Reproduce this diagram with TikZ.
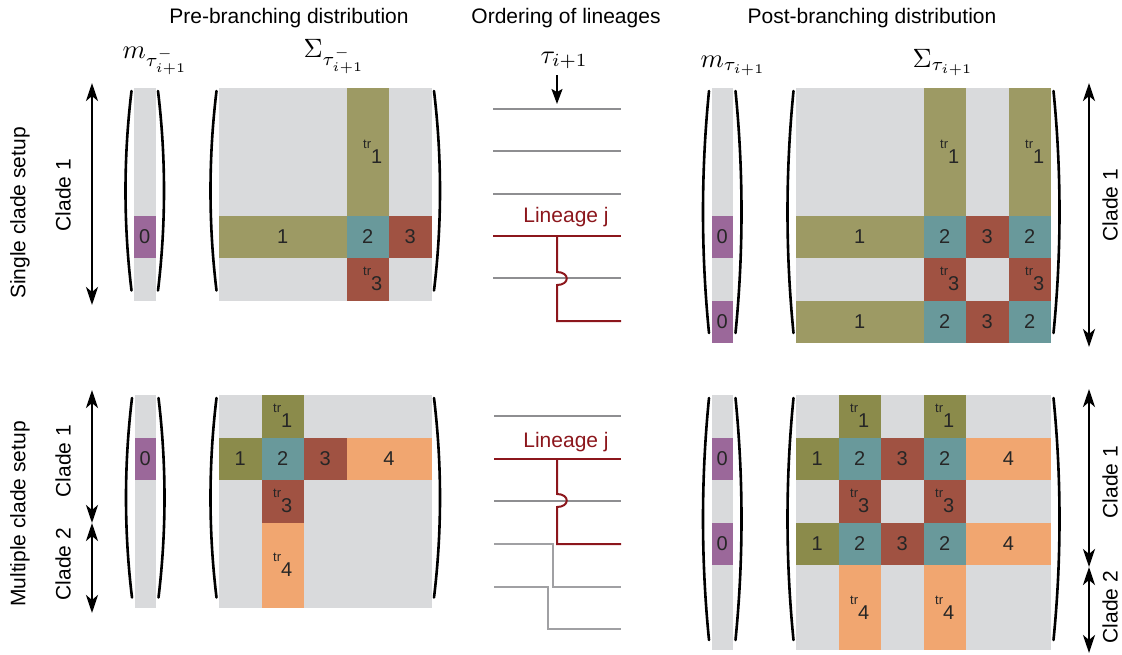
\documentclass[tikz,border=0pt]{standalone}
\usepackage{fix-cm}
\usepackage{amsmath}
\usepackage{fontspec}
\setmainfont{Liberation Sans}
\usetikzlibrary{arrows.meta}
\usetikzlibrary{calc}

\definecolor{cellgray}{RGB}{217,218,220}
\definecolor{olivea}{RGB}{157,154,100}
\definecolor{oliveb}{RGB}{139,139,75}
\definecolor{tealc}{RGB}{105,153,155}
\definecolor{redc}{RGB}{160,82,66}
\definecolor{purplec}{RGB}{155,104,154}
\definecolor{orangec}{RGB}{241,166,112}
\definecolor{linered}{RGB}{140,22,28}
\definecolor{linegray}{RGB}{142,142,145}
\definecolor{lightline}{RGB}{160,160,163}

% transposed entry
\newcommand\trp[1]{\raisebox{15pt}{\fontsize{13}{13}\selectfont tr}#1}
\newcommand\trpr[1]{\kern10pt\trp{#1}}
% block of cells: origin, c0, r0, c1, r1, colour, name, label
\newcommand\cellblk[8]{%
  \fill[#6] ($(#1)+({(#2)*\cellw},{(#3)*\cellw})$) rectangle ($(#1)+({(#4)*\cellw},{(#5)*\cellw})$);
  \node[num] (#7) at ($(#1)+({((#2)+(#4))*\cellw/2},{((#3)+(#5))*\cellw/2})$) {#8};}
% purple entry of a mean vector: origin, row, name
\newcommand\mcell[3]{%
  \fill[purplec] ($(#1)+(0,{(#2)*\cellw})$) rectangle +(\mw,\cellw);
  \node[num] (#3) at ($(#1)+(\mw/2,{((#2)+0.5)*\cellw})$) {0};}
% pair of brackets: left x, right x, top y, bottom y
\newcommand\vparen[4]{%
  \draw[paren] (#1-2.5,#3+3) .. controls +(-8,{(#4-#3-13)/3}) and +(-8,{-(#4-#3-13)/3}) .. (#1-2.5,#4-10);
  \draw[paren] (#2+2.5,#3+3) .. controls +(8,{(#4-#3-13)/3}) and +(8,{-(#4-#3-13)/3}) .. (#2+2.5,#4-10);}

\begin{document}
\begin{tikzpicture}[x=1pt,y=-1pt,>=Stealth]
\useasboundingbox (0,0) rectangle (1122,654);
\def\cellw{42.5}
\def\mw{21.5}

\tikzstyle{head}=[font=\fontsize{21}{25}\selectfont,anchor=base,inner sep=0pt]
\tikzstyle{side}=[font=\fontsize{21}{25}\selectfont,rotate=90,inner sep=0pt]
\tikzstyle{num}=[font=\fontsize{20}{24}\selectfont,text=black!85,inner sep=0pt]
\tikzstyle{sym}=[font=\fontsize{10}{12}\selectfont,scale=2.65,anchor=base west,inner sep=0pt]
\tikzstyle{paren}=[line width=2.6pt,line cap=round]
\tikzstyle{clade}=[line width=2.6pt,{Stealth[length=18pt,width=12pt,inset=5pt]}-{Stealth[length=18pt,width=12pt,inset=5pt]}]
\tikzstyle{lin}=[line width=2.6pt,linegray]
\tikzstyle{lightlin}=[line width=1.8pt,lightline]
\tikzstyle{linj}=[line width=2pt,linered]

%% HEADINGS
\node[head] (hpre) at (289,23) {Pre-branching distribution};
\node[head] (hord) at (566,23) {Ordering of lineages};
\node[head] (hpost) at (872,23) {Post-branching distribution};
\node[sym] (mpre) at (122,58) {$m_{\tau^-_{i+1}}$};
\node[sym] (spre) at (303,57) {$\Sigma_{\tau^-_{i+1}}$};
\node[sym] (tau) at (540,63) {$\tau_{i+1}$};
\node[sym] (mpost) at (700,67) {$m_{\tau_{i+1}}$};
\node[sym] (spost) at (912,67) {$\Sigma_{\tau_{i+1}}$};

%% SINGLE CLADE SETUP
\node[side] (single) at (20,213) {Single clade setup};
\node[side] (cA) at (63,195) {Clade 1};
\draw[clade] (92,83) -- (92,305);
\node[side] (cB) at (1110,205) {Clade 1};
\draw[clade] (1089,83) -- (1089,347);

% pre-branching
\coordinate (mA) at (134,88);
\coordinate (sA) at (219,88);
\fill[cellgray] (mA) rectangle +(\mw,5*\cellw);
\mcell{mA}{3}{mA0}
\fill[cellgray] (sA) rectangle +(5*\cellw,5*\cellw);
\cellblk{sA}{3}{0}{4}{3}{olivea}{aT1}{\trpr{1}}
\cellblk{sA}{0}{3}{3}{4}{olivea}{a1}{1}
\cellblk{sA}{3}{3}{4}{4}{tealc}{a2}{2}
\cellblk{sA}{4}{3}{5}{4}{redc}{a3}{3}
\cellblk{sA}{3}{4}{4}{5}{redc}{aT3}{\trpr{3}}
\vparen{134}{155.5}{88}{300.5}
\vparen{219}{431.5}{88}{300.5}

% ordering
\foreach \y in {109,151,194,278} \draw[lin] (493,\y) -- (621,\y);
\draw[linj,line width=2.6pt] (493,236) -- (621,236);
\draw[linj] (557,236) -- (557,272) .. controls +(13,0) and +(13,0) .. (557,285) -- (557,321) -- (621,321);
\node[head,text=linered] (linA) at (566,222) {Lineage j};
\draw[line width=2pt,-{Stealth[length=15pt,width=11pt,inset=3pt]}] (557,75) -- (557,104);

% post-branching
\coordinate (mB) at (711.5,88);
\coordinate (sB) at (796,88);
\fill[cellgray] (mB) rectangle +(\mw,6*\cellw);
\mcell{mB}{3}{mB0}
\mcell{mB}{5}{mB1}
\fill[cellgray] (sB) rectangle +(6*\cellw,6*\cellw);
\cellblk{sB}{3}{0}{4}{3}{olivea}{bT1}{\trpr{1}}
\cellblk{sB}{5}{0}{6}{3}{olivea}{bT1b}{\trpr{1}}
\foreach \r/\n in {3/x,5/y} {
  \cellblk{sB}{0}{\r}{3}{\r+1}{olivea}{b1\n}{1}
  \cellblk{sB}{3}{\r}{4}{\r+1}{tealc}{b2\n}{2}
  \cellblk{sB}{4}{\r}{5}{\r+1}{redc}{b3\n}{3}
  \cellblk{sB}{5}{\r}{6}{\r+1}{tealc}{b2b\n}{2}
}
\cellblk{sB}{3}{4}{4}{5}{redc}{bT3}{\trpr{3}}
\cellblk{sB}{5}{4}{6}{5}{redc}{bT3b}{\trpr{3}}
\vparen{711.5}{733}{88}{343}
\vparen{796}{1051}{88}{343}

%% MULTIPLE CLADE SETUP
\node[side] (multi) at (20,514) {Multiple clade setup};
\node[side] (cC1) at (63,461) {Clade 1};
\node[side] (cC2) at (63,564) {Clade 2};
\draw[clade] (92,390) -- (92,523);
\draw[clade] (92,523) -- (92,613);
\node[side] (cD1) at (1110,482) {Clade 1};
\node[side] (cD2) at (1110,607) {Clade 2};
\draw[clade] (1089,389) -- (1089,567);
\draw[clade] (1089,567) -- (1089,653);

% pre-branching
\coordinate (mC) at (134.5,395);
\coordinate (sC) at (219,395);
\fill[cellgray] (mC) rectangle +(\mw,5*\cellw);
\mcell{mC}{1}{mC0}
\fill[cellgray] (sC) rectangle +(5*\cellw,5*\cellw);
\cellblk{sC}{1}{0}{2}{1}{oliveb}{cT1}{\trp{1}}
\cellblk{sC}{0}{1}{1}{2}{oliveb}{c1}{1}
\cellblk{sC}{1}{1}{2}{2}{tealc}{c2}{2}
\cellblk{sC}{2}{1}{3}{2}{redc}{c3}{3}
\cellblk{sC}{3}{1}{5}{2}{orangec}{c4}{4}
\cellblk{sC}{1}{2}{2}{3}{redc}{cT3}{\trp{3}}
\cellblk{sC}{1}{3}{2}{5}{orangec}{cT4}{\trp{4}}
\vparen{134.5}{156}{395}{607.5}
\vparen{219}{431.5}{395}{607.5}

% ordering
\draw[lin] (494,416) -- (621,416);
\draw[linj,line width=1.6pt] (494,459) -- (557,459);
\draw[linj,line width=2.6pt] (557,459) -- (621,459);
\draw[lin] (494,501) -- (621,501);
\draw[linj] (557,459) -- (557,494) .. controls +(13,0) and +(13,0) .. (557,507) -- (557,544) -- (621,544);
\node[head,text=linered] (linC) at (566,447) {Lineage j};
\draw[lightlin] (494,544) -- (553,544) -- (553,587) -- (621,587);
\draw[lightlin] (494,587) -- (548,587) -- (548,629) -- (621,629);

% post-branching
\coordinate (mD) at (711.5,395);
\coordinate (sD) at (796,395);
\fill[cellgray] (mD) rectangle +(\mw,6*\cellw);
\mcell{mD}{1}{mD0}
\mcell{mD}{3}{mD1}
\fill[cellgray] (sD) rectangle +(6*\cellw,6*\cellw);
\cellblk{sD}{1}{0}{2}{1}{oliveb}{dT1}{\trp{1}}
\cellblk{sD}{3}{0}{4}{1}{oliveb}{dT1b}{\trp{1}}
\foreach \r/\n in {1/x,3/y} {
  \cellblk{sD}{0}{\r}{1}{\r+1}{oliveb}{d1\n}{1}
  \cellblk{sD}{1}{\r}{2}{\r+1}{tealc}{d2\n}{2}
  \cellblk{sD}{2}{\r}{3}{\r+1}{redc}{d3\n}{3}
  \cellblk{sD}{3}{\r}{4}{\r+1}{tealc}{d2b\n}{2}
  \cellblk{sD}{4}{\r}{6}{\r+1}{orangec}{d4\n}{4}
}
\cellblk{sD}{1}{2}{2}{3}{redc}{dT3}{\trp{3}}
\cellblk{sD}{3}{2}{4}{3}{redc}{dT3b}{\trp{3}}
\cellblk{sD}{1}{4}{2}{6}{orangec}{dT4}{\trp{4}}
\cellblk{sD}{3}{4}{4}{6}{orangec}{dT4b}{\trp{4}}
\vparen{711.5}{733}{395}{650}
\vparen{796}{1051}{395}{650}

\end{tikzpicture}
\end{document}
